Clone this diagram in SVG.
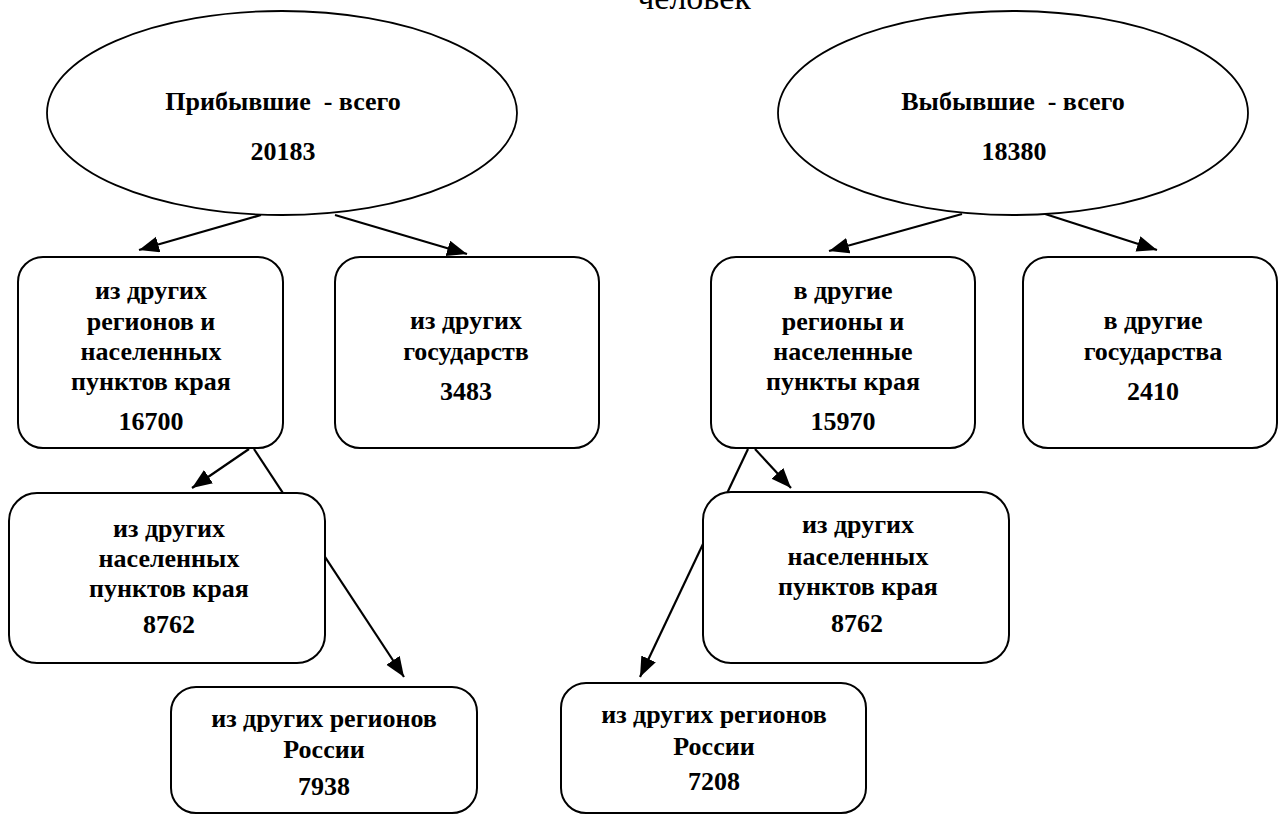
<svg xmlns="http://www.w3.org/2000/svg" width="1279" height="814" viewBox="0 0 1279 814">
<style>
  .shape { fill: #fff; stroke: #000; stroke-width: 2; }
  .ell { fill: #fff; stroke: #000; stroke-width: 1.8; }
  .t { font-family: "Liberation Serif", "DejaVu Serif", serif; font-weight: bold; font-size: 26px; text-anchor: middle; fill: #000; white-space: pre; }
  .title { font-family: "Liberation Serif", "DejaVu Serif", serif; font-size: 34px; text-anchor: middle; fill: #000; }
  .conn { stroke: #000; stroke-width: 2.2; fill: none; }
</style>
<defs>
  <marker id="arr" markerUnits="userSpaceOnUse" markerWidth="22" markerHeight="18" refX="20" refY="8" orient="auto">
    <path d="M0,0 L20,8 L0,16 Z" fill="#000"/>
  </marker>
</defs>
<rect width="1279" height="814" fill="#fff"/>
<text class="title" x="694" y="9">человек</text>
<g id="connectors">
  <line class="conn" x1="261" y1="215" x2="139" y2="250" marker-end="url(#arr)"/>
  <line class="conn" x1="335" y1="215" x2="467" y2="254" marker-end="url(#arr)"/>
  <line class="conn" x1="962" y1="214" x2="829" y2="251" marker-end="url(#arr)"/>
  <line class="conn" x1="1042" y1="213" x2="1157" y2="250" marker-end="url(#arr)"/>
  <line class="conn" x1="249" y1="449" x2="192" y2="488" marker-end="url(#arr)"/>
  <line class="conn" x1="254" y1="449" x2="404" y2="677" marker-end="url(#arr)"/>
  <line class="conn" x1="755" y1="449" x2="791" y2="488" marker-end="url(#arr)"/>
  <line class="conn" x1="748" y1="449" x2="640" y2="677" marker-end="url(#arr)"/>
</g>
<g id="arrived">
  <ellipse class="ell" cx="282" cy="113" rx="235" ry="102"/>
  <text class="t" x="283" y="110">Прибывшие  - всего</text>
  <text class="t" x="283" y="160">20183</text>
</g>
<g id="departed">
  <ellipse class="ell" cx="1013" cy="113" rx="235" ry="102"/>
  <text class="t" x="1013" y="110">Выбывшие  - всего</text>
  <text class="t" x="1014" y="160">18380</text>
</g>
<g id="from-regions-and-settlements">
  <rect class="shape" x="18" y="257" width="265" height="191" rx="25"/>
  <text class="t" x="151" y="299">из других</text>
  <text class="t" x="151" y="330">регионов и</text>
  <text class="t" x="151" y="360">населенных</text>
  <text class="t" x="151" y="390">пунктов края</text>
  <text class="t" x="151" y="430">16700</text>
</g>
<g id="from-states">
  <rect class="shape" x="335" y="257" width="264" height="191" rx="25"/>
  <text class="t" x="466" y="329">из других</text>
  <text class="t" x="466" y="360">государств</text>
  <text class="t" x="466" y="400">3483</text>
</g>
<g id="to-regions-and-settlements">
  <rect class="shape" x="711" y="257" width="264" height="191" rx="25"/>
  <text class="t" x="843" y="299">в другие</text>
  <text class="t" x="843" y="330">регионы и</text>
  <text class="t" x="843" y="360">населенные</text>
  <text class="t" x="843" y="390">пункты края</text>
  <text class="t" x="843" y="430">15970</text>
</g>
<g id="to-states">
  <rect class="shape" x="1023" y="257" width="254" height="191" rx="25"/>
  <text class="t" x="1153" y="329">в другие</text>
  <text class="t" x="1153" y="360">государства</text>
  <text class="t" x="1153" y="400">2410</text>
</g>
<g id="from-settlements">
  <rect class="shape" x="9" y="493" width="316" height="170" rx="28"/>
  <text class="t" x="169" y="537">из других</text>
  <text class="t" x="169" y="567">населенных</text>
  <text class="t" x="169" y="597">пунктов края</text>
  <text class="t" x="169" y="633">8762</text>
</g>
<g id="from-russia-regions">
  <rect class="shape" x="171" y="687" width="306" height="126" rx="25"/>
  <text class="t" x="324" y="727">из других регионов</text>
  <text class="t" x="324" y="758">России</text>
  <text class="t" x="324" y="795">7938</text>
</g>
<g id="to-settlements">
  <rect class="shape" x="703" y="492" width="306" height="171" rx="28"/>
  <text class="t" x="858" y="533">из других</text>
  <text class="t" x="858" y="565">населенных</text>
  <text class="t" x="858" y="595">пунктов края</text>
  <text class="t" x="857" y="632">8762</text>
</g>
<g id="to-russia-regions">
  <rect class="shape" x="561" y="683" width="305" height="130" rx="25"/>
  <text class="t" x="714" y="723">из других регионов</text>
  <text class="t" x="714" y="755">России</text>
  <text class="t" x="714" y="790">7208</text>
</g>
</svg>
